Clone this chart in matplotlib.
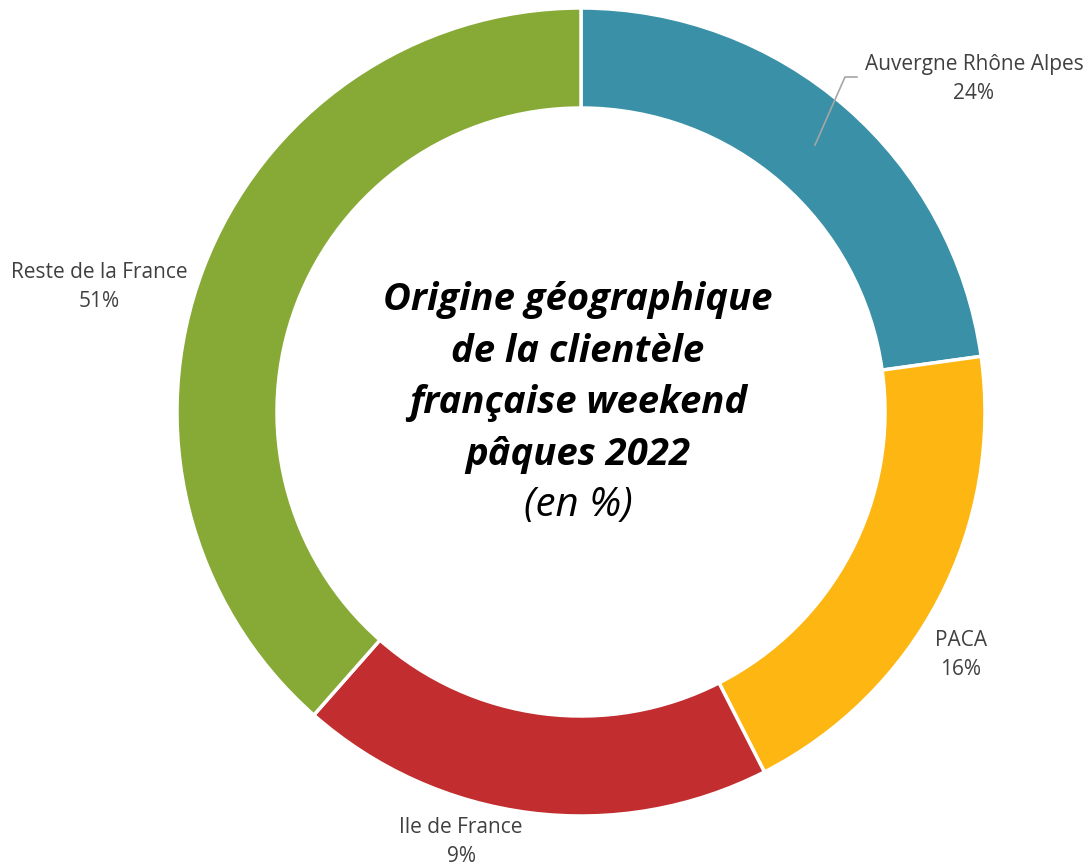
import matplotlib.pyplot as plt

# parts du donut et etiquettes affichees
regions = ['Auvergne Rhône Alpes', 'PACA', 'Ile de France', 'Reste de la France']
parts = [22.8, 19.7, 19.0, 38.5]
etiquettes = ['24%', '16%', '9%', '51%']
couleurs = ['#3A91A7', '#FDB612', '#C22D2F', '#87AA36']

W, H = 1089, 867
fig = plt.figure(figsize=(W / 100, H / 100), dpi=100)
ax = fig.add_axes([0, 0, 1, 1])

cx, cy, r = 581, H - 412, 404
ax.pie(parts, colors=couleurs, startangle=90, counterclock=False,
       center=(cx, cy), radius=r, frame=True,
       wedgeprops=dict(width=100, edgecolor='white', linewidth=2.5))
ax.set_xlim(0, W)
ax.set_ylim(0, H)
ax.set_aspect('equal')
ax.axis('off')

# position des etiquettes (pixels depuis le haut)
pos = [(974, 79), (961, 655), (461, 842), (99, 287)]
for nom, pct, (x, y) in zip(regions, etiquettes, pos):
    ax.text(x, H - y, nom + '\n' + pct, ha='center', va='center',
            fontsize=15, color='#404040', family='Open Sans', linespacing=1.55)

# ligne de rappel Auvergne
ax.plot([815, 845, 857], [H - 145, H - 77, H - 77], color='#A6A6A6', lw=1.2)

titre = ['Origine géographique', 'de la clientèle', 'française weekend', 'pâques 2022']
for i, t in enumerate(titre):
    ax.text(578, H - (300 + 51.5 * i), t, ha='center', va='center',
            fontsize=27.5, fontweight='bold', fontstyle='italic', family='Open Sans', color='black')
ax.text(578, H - 506, '(en %)', ha='center', va='center',
        fontsize=29, fontstyle='italic', family='Open Sans', color='black')

fig.savefig('out.png', dpi=100)
